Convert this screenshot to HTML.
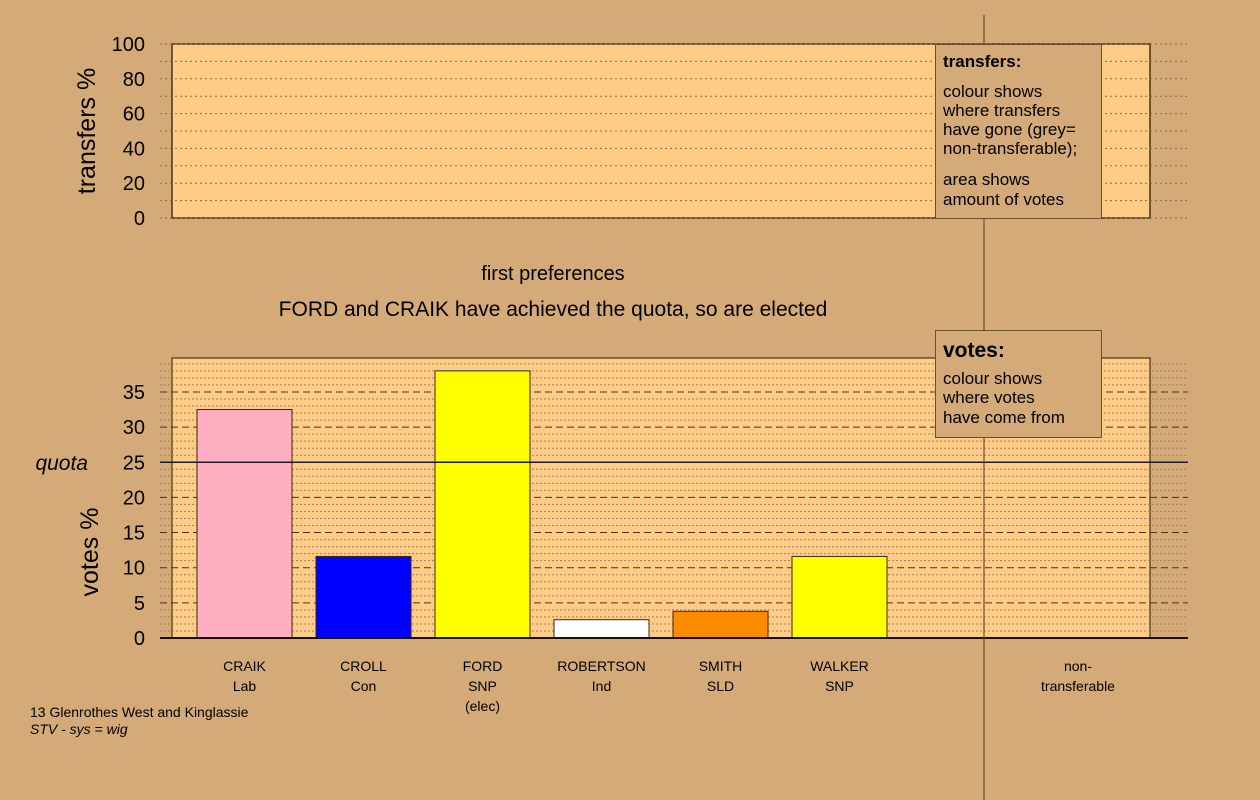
<!DOCTYPE html>
<html><head><meta charset="utf-8"><style>
html,body{margin:0;padding:0;background:#d4aa78;}
svg{display:block;font-family:"Liberation Sans",Arial,sans-serif;}
</style></head><body>
<svg id="chart" width="1260" height="800" viewBox="0 0 1260 800">
<rect x="0" y="0" width="1260" height="800" fill="#d4aa78"/>
<g id="topPanel"></g>
<g id="bottomPanel"></g>
<line x1="984" y1="15" x2="984" y2="800" stroke="#6b4e2e" stroke-width="1.2"/>
<text x="553" y="280" font-size="20" text-anchor="middle" fill="#000">first preferences</text>
<text x="553" y="316" font-size="21" text-anchor="middle" fill="#000">FORD and CRAIK have achieved the quota, so are elected</text>
<text x="95" y="131" font-size="25" text-anchor="middle" transform="rotate(-90 95 131)" fill="#000">transfers %</text>
<text x="98" y="552" font-size="25" text-anchor="middle" transform="rotate(-90 98 552)" fill="#000">votes %</text>
<text x="88" y="470" font-size="21" font-style="italic" text-anchor="end" fill="#000">quota</text>
<g>
<rect x="935.5" y="44.5" width="166" height="174" fill="#d4aa78" stroke="#6b4e2e"/>
<text x="943" y="67" font-size="17" font-weight="bold">transfers:</text>
<text font-size="17"><tspan x="943" y="97">colour shows</tspan><tspan x="943" y="116">where transfers</tspan><tspan x="943" y="135">have gone (grey=</tspan><tspan x="943" y="154">non-transferable);</tspan><tspan x="943" y="185">area shows</tspan><tspan x="943" y="205">amount of votes</tspan></text>
</g>
<g>
<rect x="935.5" y="330.5" width="166" height="107" fill="#d4aa78" stroke="#6b4e2e"/>
<text x="943" y="357" font-size="21" font-weight="bold">votes:</text>
<text font-size="17"><tspan x="943" y="384">colour shows</tspan><tspan x="943" y="403">where votes</tspan><tspan x="943" y="423">have come from</tspan></text>
</g>
<text font-size="14" text-anchor="middle"><tspan x="1078" y="671">non-</tspan><tspan x="1078" y="691">transferable</tspan></text>
<text x="30" y="717" font-size="14">13 Glenrothes West and Kinglassie</text>
<text x="30" y="734" font-size="14" font-style="italic">STV - sys = wig</text>
</svg>
<script>
const candidates = ["CRAIK","CROLL","FORD","ROBERTSON","SMITH","WALKER"];
const parties = ["Lab","Con","SNP\n(elec)","Ind","SLD","SNP"];
const votes = [32.5, 11.6, 38.0, 2.6, 3.8, 11.6];
const colours = ["#ffadc0","#0000ff","#ffff00","#ffffff","#ff8c00","#ffff00"];
const quota = 25;
const voteTicks = [0,5,10,15,20,25,30,35];
const transferTicks = [0,20,40,60,80,100];

(function(){
const NS = "http://www.w3.org/2000/svg";
function mk(parent, tag, attrs){const e=document.createElementNS(NS,tag);for(const k in attrs)e.setAttribute(k,attrs[k]);parent.appendChild(e);return e;}
const plotL=172, plotR=1150, gridL=160, gridR=1188;
const tY = v => 218 - v*1.74;
const tp=document.getElementById('topPanel');
const tb=mk(tp,'rect',{x:plotL,y:tY(100),width:plotR-plotL,height:tY(0)-tY(100),fill:'#ffcc88',stroke:'#4a3218','stroke-width':1.5});


for(let v=0; v<=100; v+=10){
  const g=mk(tp,'line',{x1:gridL,x2:gridR,y1:tY(v),y2:tY(v),stroke:'#8a6a40','stroke-width':1,'stroke-dasharray':'2,3'});
  
  
}
transferTicks.forEach(v=>{
  const t=mk(tp,'text',{x:145,y:tY(v)+7,'font-size':20,'text-anchor':'end'});t.textContent=v;
  
  
});
const vY = v => 638 - v*7.03;
const bp=document.getElementById('bottomPanel');
const bb=mk(bp,'rect',{x:plotL,y:358,width:plotR-plotL,height:638-358,fill:'#ffcc88',stroke:'#4a3218','stroke-width':1.2});


for(let v=1; v<=39; v++){
  if(v%5===0) continue;
  const g=mk(bp,'line',{x1:gridL,x2:gridR,y1:vY(v),y2:vY(v),stroke:'#a08060','stroke-width':1,'stroke-dasharray':'2,2'});
  
  
}
voteTicks.forEach(v=>{
  if(v!==0 && v!==quota){
    const g=mk(bp,'line',{x1:gridL,x2:gridR,y1:vY(v),y2:vY(v),stroke:'#4a3218','stroke-width':1,'stroke-dasharray':'7,4'});
    
    
  }
  const t=mk(bp,'text',{x:145,y:vY(v)+7,'font-size':20,'text-anchor':'end'});t.textContent=v;
  
  
});
const slot=119, bw=95, x0=197;
candidates.forEach((c,i)=>{
  const x=x0+i*slot;
  const r=mk(bp,'rect',{x:x,y:vY(votes[i]),width:bw,height:vY(0)-vY(votes[i]),fill:colours[i],stroke:'#3a2810','stroke-width':1});
  
  
  const t=mk(bp,'text',{'font-size':14,'text-anchor':'middle'});
  
  
  const lines=[c].concat(parties[i].split('\n'));
  lines.forEach((l,j)=>{const s=mk(t,'tspan',{x:x+bw/2,y:671+j*20});s.textContent=l;});
});
const ql=mk(bp,'line',{x1:gridL,x2:gridR,y1:vY(quota),y2:vY(quota),stroke:'#1a1a30','stroke-width':1.5});


const ax=mk(bp,'line',{x1:gridL,x2:gridR,y1:vY(0),y2:vY(0),stroke:'#1a1008','stroke-width':2});


})();
</script>
</body></html>
